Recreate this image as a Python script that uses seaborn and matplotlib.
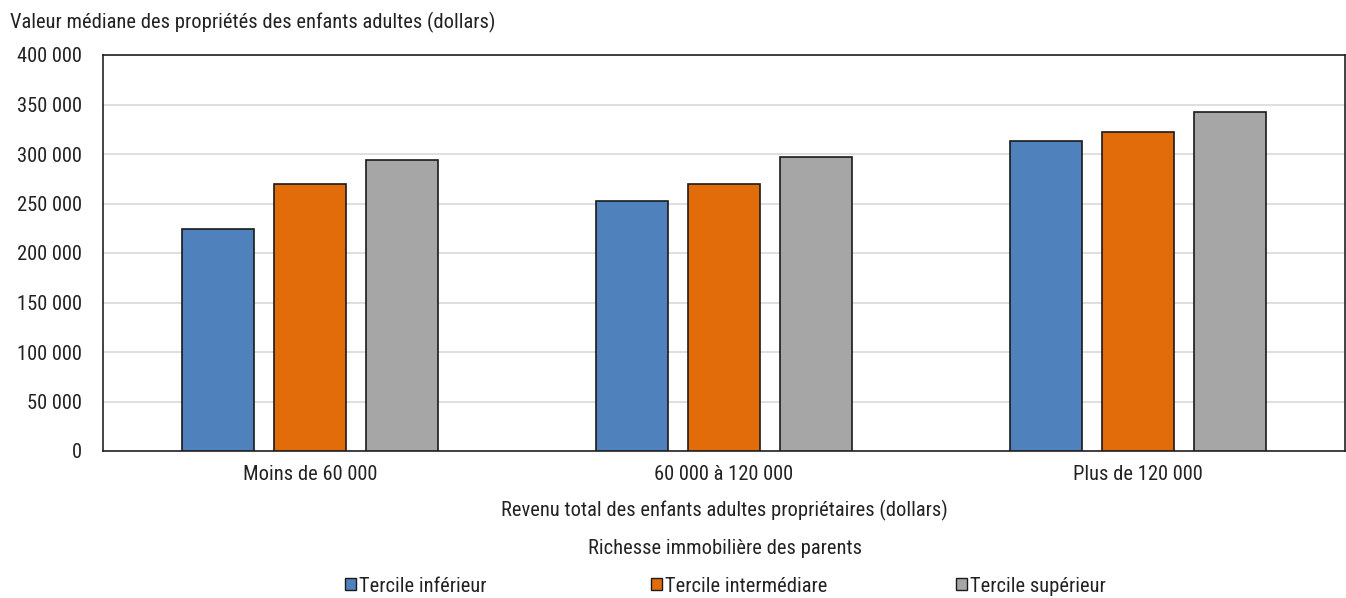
import matplotlib
matplotlib.use("Agg")
import matplotlib.pyplot as plt
import matplotlib.ticker as mticker
from matplotlib.patches import Patch
import seaborn as sns
import pandas as pd

categories = ["Moins de 60 000", "60 000 à 120 000", "Plus de 120 000"]
series_names = ["Tercile inférieur", "Tercile intermédiare", "Tercile supérieur"]
tercile_inf = [224000, 253000, 313000]
tercile_int = [270000, 270000, 322000]
tercile_sup = [294000, 297000, 342000]
colors = ["#4f81bd", "#e36c0a", "#a6a6a6"]

rows = []
for name, vals in zip(series_names, [tercile_inf, tercile_int, tercile_sup]):
    for c, v in zip(categories, vals):
        rows.append({"cat": c, "serie": name, "val": v})
df = pd.DataFrame(rows)

sns.set_theme(style="white")
plt.rcParams['font.family'] = ['Roboto Condensed', 'DejaVu Sans']
FS = 14.8
TXT = "#222222"

fig = plt.figure(figsize=(13.46, 5.98), dpi=100)
ax = fig.add_axes([103/1346, 1 - 451/598, (1345 - 103)/1346, (451 - 55)/598])

sns.barplot(data=df, x="cat", y="val", hue="serie", order=categories,
            hue_order=series_names, palette=colors, width=0.666, gap=0.22,
            edgecolor="#1a1a1a", linewidth=1.2, saturation=1, ax=ax, legend=False, zorder=3)

ax.set_xlim(-0.5, 2.5)
ax.set_ylim(0, 400000)
ax.yaxis.set_major_locator(mticker.MultipleLocator(50000))
ax.yaxis.set_major_formatter(mticker.FuncFormatter(lambda v, p: f"{int(v):,}".replace(",", " ")))
ax.grid(axis="y", color="#d9d9d9", linewidth=1.2, zorder=0)
ax.set_axisbelow(True)
for s in ax.spines.values():
    s.set_visible(True)
    s.set_color("#222222")
    s.set_linewidth(1.2)
ax.tick_params(axis="both", length=0, labelsize=FS, colors=TXT)
ax.tick_params(axis="y", pad=15)
ax.tick_params(axis="x", pad=10)
ax.set_ylabel("")
ax.set_xlabel("Revenu total des enfants adultes propriétaires (dollars)", fontsize=FS, color=TXT)
ax.xaxis.set_label_coords(0.5, -(510 - 451) / 396)
ax.xaxis.label.set_va("center")

fig.text(10/1346, 1 - 22/598, "Valeur médiane des propriétés des enfants adultes (dollars)",
         fontsize=FS, color=TXT, ha="left", va="center")

# legend title
fig.text(725/1346, 1 - 549/598, "Richesse immobilière des parents",
         fontsize=FS, color=TXT, ha="center", va="center")

# legend entries (equal-width columns like the original)
legend_x = [345, 651, 956]
for c, name, lx in zip(colors, series_names, legend_x):
    h = Patch(facecolor=c, edgecolor="#1a1a1a", linewidth=1)
    leg = fig.legend([h], [name], loc="center left", bbox_to_anchor=(lx/1346, 1 - 586/598),
                     frameon=False, fontsize=FS, handlelength=0.55, handleheight=0.55,
                     handletextpad=0.15, borderaxespad=0, borderpad=0)
    for t in leg.get_texts():
        t.set_color(TXT)

fig.savefig("out.png", dpi=100)
